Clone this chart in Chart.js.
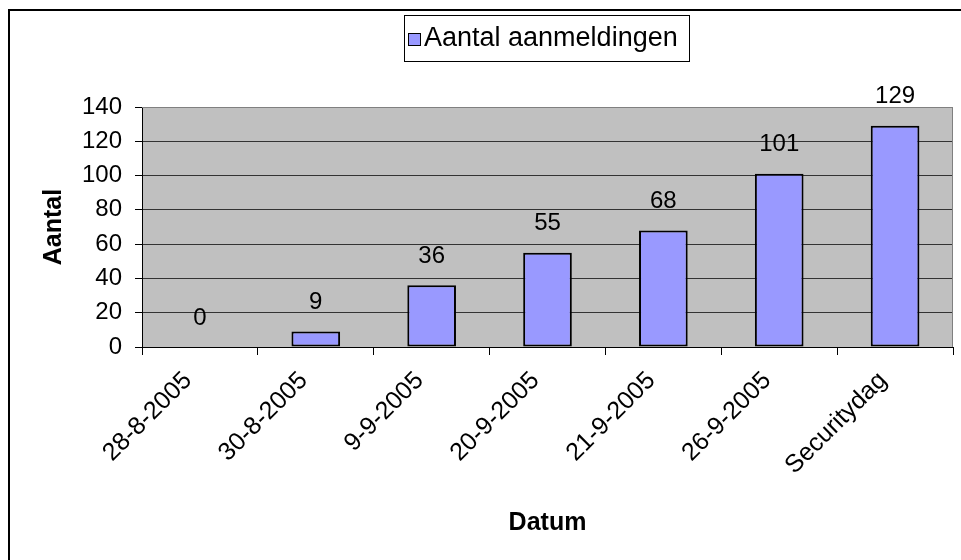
<!DOCTYPE html>
<html>
<head>
<meta charset="utf-8">
<script src="https://cdn.jsdelivr.net/npm/chart.js@4"></script>
<style>
  html, body { margin: 0; padding: 0; background: #fff; }
  #wrap { width: 961px; height: 560px; }
</style>
</head>
<body>
<div id="wrap"><canvas id="chart" width="961" height="560"></canvas></div>
<script>
const categories = ['28-8-2005', '30-8-2005', '9-9-2005', '20-9-2005', '21-9-2005', '26-9-2005', 'Securitydag'];
const registrations = [0, 9, 36, 55, 68, 101, 129];
const seriesName = 'Aantal aanmeldingen';
const yMax = 140;
const yStep = 20;
const xTitle = 'Datum';
const yTitle = 'Aantal';

const FONT = '"Liberation Sans", Arial, sans-serif';
const barFill = '#9999FF';

// white page + black frame that runs off the right/bottom edge
const frame = {
  id: 'frame',
  beforeDraw(chart) {
    const { ctx, chartArea: a } = chart;
    ctx.save();
    ctx.fillStyle = '#fff';
    ctx.fillRect(0, 0, chart.width, chart.height);
    ctx.lineWidth = 2;
    ctx.strokeStyle = '#000';
    ctx.strokeRect(9, 10, 2000, 2000);
    ctx.fillStyle = '#C0C0C0';
    ctx.fillRect(a.left, a.top, a.right - a.left, a.bottom - a.top);
    ctx.restore();
  },
  afterDraw(chart) {
    const { ctx, chartArea: a } = chart;
    ctx.save();
    ctx.strokeStyle = '#808080';
    ctx.lineWidth = 1;
    ctx.beginPath();
    ctx.moveTo(a.left, a.top + 0.5);
    ctx.lineTo(a.right - 0.5, a.top + 0.5);
    ctx.lineTo(a.right - 0.5, a.bottom);
    ctx.stroke();
    ctx.restore();
  },
};

// legend box like the spreadsheet one
const boxLegend = {
  id: 'boxLegend',
  afterDraw(chart) {
    const { ctx } = chart;
    const ds = chart.data.datasets[0];
    ctx.save();
    ctx.strokeStyle = '#000';
    ctx.lineWidth = 1;
    ctx.strokeRect(404.5, 15.5, 285, 46);
    ctx.fillStyle = ds.backgroundColor;
    ctx.fillRect(408, 33, 13, 13);
    ctx.strokeRect(408.5, 33.5, 12, 12);
    ctx.fillStyle = '#000';
    ctx.font = '27px ' + FONT;
    ctx.textBaseline = 'alphabetic';
    ctx.fillText(ds.label, 424, 46);
    ctx.restore();
  },
};

// value labels above the bars
const valueLabels = {
  id: 'valueLabels',
  afterDatasetsDraw(chart) {
    const { ctx } = chart;
    const meta = chart.getDatasetMeta(0);
    ctx.save();
    ctx.fillStyle = '#000';
    ctx.font = '24px ' + FONT;
    ctx.textAlign = 'center';
    ctx.textBaseline = 'middle';
    meta.data.forEach((bar, i) => {
      ctx.fillText(String(registrations[i]), bar.x, bar.y - 29);
    });
    ctx.restore();
  },
};

new Chart(document.getElementById('chart'), {
  type: 'bar',
  data: {
    labels: categories,
    datasets: [{
      label: seriesName,
      data: registrations,
      backgroundColor: barFill,
      borderColor: '#000',
      borderWidth: (c) => (c.raw === 0 ? 0 : 2),
      borderSkipped: false,
      barPercentage: 0.42,
      categoryPercentage: 1,
    }],
  },
  options: {
    responsive: false,
    animation: false,
    events: [],
    layout: { padding: { top: 107, right: 8, left: 0, bottom: 0 } },
    plugins: { legend: { display: false }, tooltip: { enabled: false } },
    scales: {
      x: {
        afterFit: (s) => { s.height = 213; },
        grid: { drawOnChartArea: false, tickLength: 8, tickColor: '#000', offset: true },
        border: { color: '#000', width: 1 },
        ticks: {
          color: '#000',
          font: { family: FONT, size: 25 },
          minRotation: 45,
          maxRotation: 45,
          autoSkip: false,
          padding: 11,
          labelOffset: -12,
        },
        title: {
          display: true,
          text: xTitle,
          color: '#000',
          font: { family: FONT, size: 25, weight: 'bold', lineHeight: 1.2 },
          padding: { top: 0, bottom: 22 },
        },
      },
      y: {
        min: 0,
        max: yMax,
        afterFit: (s) => { s.width = 142; },
        grid: {
          color: (c) => (c.tick && c.tick.value === yMax ? '#808080' : '#333'),
          tickColor: '#000',
          tickLength: 7,
        },
        border: { color: '#000', width: 1 },
        ticks: {
          stepSize: yStep,
          color: '#000',
          font: { family: FONT, size: 24 },
          padding: 13,
        },
        title: {
          display: true,
          text: yTitle,
          color: '#000',
          font: { family: FONT, size: 25, weight: 'bold', lineHeight: 1.2 },
          padding: { top: 39, bottom: 0 },
        },
      },
    },
  },
  plugins: [frame, valueLabels, boxLegend],
});
</script>
</body>
</html>
